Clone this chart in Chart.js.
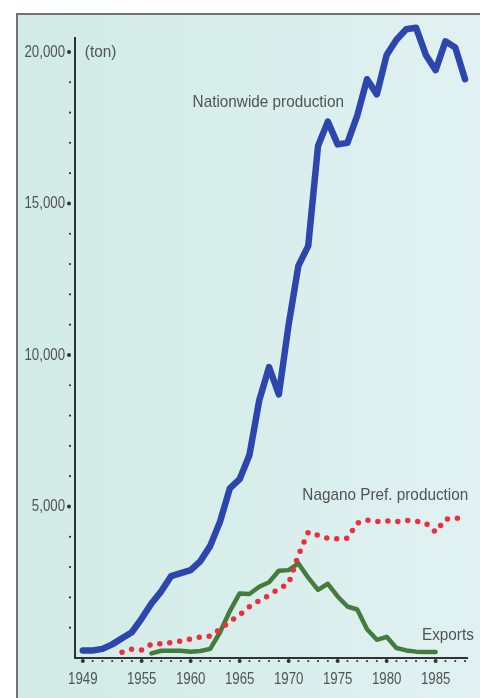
<!DOCTYPE html>
<html lang="en">
<head>
	<meta charset="utf-8">
	<title>Production and exports (ton)</title>
	<script src="https://cdn.jsdelivr.net/npm/chart.js"></script>
	<style>
		html, body {margin:0; padding:0; background:#fff;}
		#wrap {width:480px; height:698px; position:relative;}
	</style>
</head>
<body>
	<div id="wrap"><canvas id="grafico" width="480" height="698"></canvas></div>

<script>
	// data (ton)
	const years = [1949,1950,1951,1952,1953,1954,1955,1956,1957,1958,1959,1960,1961,1962,1963,1964,1965,1966,1967,1968,
		1969,1970,1971,1972,1973,1974,1975,1976,1977,1978,1979,1980,1981,1982,1983,1984,1985,1986,1987,1988];

	const nationwide = [250,250,300,450,650,850,1300,1800,2200,2700,2800,2900,3200,3700,4500,5600,5900,6700,8500,9600,
		8700,11000,12950,13600,16900,17700,16950,17000,17900,19100,18600,19900,20400,20750,20800,19900,19400,20350,20150,19100];

	const nagano = [null,null,null,null,190,290,260,460,470,510,560,630,690,720,950,1200,1420,1690,1890,2070,
		2280,2460,3400,4150,4050,3950,3930,3950,4450,4550,4500,4520,4500,4540,4520,4450,4150,4580,4610,4630];

	const exportsTon = [null,null,null,null,null,null,null,150,240,240,240,210,230,300,850,1550,2130,2110,2350,2500,
		2880,2900,3120,2650,2250,2450,2030,1700,1600,950,600,700,330,250,210,200,200,null,null,null];

	const xTickLabels = [1949,1955,1960,1965,1970,1975,1980,1985];
	const yTickLabels = [5000,10000,15000,20000];

	const notes = [
		{text:"(ton)", year:1949.2, value:20000},
		{text:"Nationwide production", year:1960.2, value:18350},
		{text:"Nagano Pref. production", year:1971.4, value:5380},
		{text:"Exports", year:1983.6, value:760}
	];

	const corTexto = "#505453";
	const fonte = "'Liberation Sans', Arial, sans-serif";

	function montaPontos(vals) {
		let pts = [];
		for (let i = 0; i < years.length; i++) {
			pts.push({x: years[i], y: vals[i]});
		}
		return pts;
	}

	// text squeezed sideways, the print uses a condensed face
	function textoEstreito(ctx, txt, x, y, align, fator) {
		ctx.save();
		ctx.translate(x, y);
		ctx.scale(fator, 1);
		ctx.textAlign = align;
		ctx.fillText(txt, 0, 0);
		ctx.restore();
	}

	// paper background + frame
	const fundo = {
		id: "fundo",
		beforeDraw(chart) {
			const ctx = chart.ctx;
			ctx.save();
			ctx.fillStyle = "#fff";
			ctx.fillRect(0, 0, chart.width, chart.height);
			let g = ctx.createLinearGradient(17, 0, chart.width, 0);
			g.addColorStop(0, "#d2ebe5");
			g.addColorStop(0.5, "#d8eeeb");
			g.addColorStop(1, "#e1f1f3");
			ctx.fillStyle = g;
			ctx.fillRect(17, 14, chart.width - 17, chart.height - 14);
			ctx.strokeStyle = "#6f7473";
			ctx.lineWidth = 2;
			ctx.beginPath();
			ctx.moveTo(17, chart.height);
			ctx.lineTo(17, 14);
			ctx.lineTo(chart.width, 14);
			ctx.stroke();
			ctx.restore();
		}
	};

	// dotted tick marks, tick numbers and the text labels
	const extras = {
		id: "extras",
		afterDraw(chart) {
			const ctx = chart.ctx;
			const sx = chart.scales.x;
			const sy = chart.scales.y;
			ctx.save();
			ctx.fillStyle = "#2f3332";
			// x dots, one per year
			let yb = sy.getPixelForValue(0) + 3;
			for (let a = 1949; a <= 1988; a++) {
				let big = xTickLabels.indexOf(a) >= 0;
				ctx.beginPath();
				ctx.arc(sx.getPixelForValue(a), yb, big ? 2 : 1.1, 0, Math.PI * 2);
				ctx.fill();
			}
			// y dots, every 1000
			let xl = sx.getPixelForValue(sx.min);
			for (let v = 1000; v <= 20000; v += 1000) {
				let big = yTickLabels.indexOf(v) >= 0;
				ctx.beginPath();
				ctx.arc(xl - (big ? 6 : 5), sy.getPixelForValue(v), big ? 2 : 1.1, 0, Math.PI * 2);
				ctx.fill();
			}

			ctx.fillStyle = corTexto;
			ctx.font = "17px " + fonte;
			ctx.textBaseline = "middle";
			xTickLabels.forEach(function(a) {
				textoEstreito(ctx, String(a), sx.getPixelForValue(a), yb + 18, "center", 0.78);
			});
			yTickLabels.forEach(function(v) {
				textoEstreito(ctx, v.toLocaleString("en-US"), xl - 10, sy.getPixelForValue(v), "right", 0.78);
			});

			ctx.font = "17px " + fonte;
			notes.forEach(function(n) {
				textoEstreito(ctx, n.text, sx.getPixelForValue(n.year), sy.getPixelForValue(n.value), "left", 0.9);
			});
			ctx.restore();
		}
	};

	const chartdata = {
		datasets: [
			{
				label: "Nationwide production",
				data: montaPontos(nationwide),
				borderColor: "#2c46ad",
				borderWidth: 6.5,
				borderJoinStyle: "round",
				borderCapStyle: "round"
			},
			{
				label: "Nagano Pref. production",
				data: montaPontos(nagano),
				borderColor: "#ec2f3c",
				borderWidth: 5.5,
				borderDash: [0, 10],
				borderCapStyle: "round"
			},
			{
				label: "Exports",
				data: montaPontos(exportsTon),
				borderColor: "#437c3c",
				borderWidth: 4.5,
				borderJoinStyle: "round",
				borderCapStyle: "round"
			}
		]
	};

	new Chart(document.getElementById("grafico"), {
		type: "line",
		data: chartdata,
		plugins: [fundo, extras],
		options: {
			responsive: false,
			animation: false,
			layout: {padding: {top: 38, right: 13, left: 0, bottom: 0}},
			elements: {point: {radius: 0}, line: {tension: 0}},
			datasets: {line: {clip: false, spanGaps: false}},
			plugins: {legend: {display: false}, tooltip: {enabled: false}},
			scales: {
				x: {
					type: "linear",
					min: 1948.2,
					max: 1988.2,
					afterFit: function(s) { s.height = 40; },
					afterBuildTicks: function(s) { s.ticks = xTickLabels.map(v => ({value: v})); },
					grid: {display: false, drawTicks: false},
					border: {display: true, color: "#2f3332", width: 2},
					ticks: {display: false}
				},
				y: {
					min: 0,
					max: 20460,
					afterFit: function(s) { s.width = 75; },
					afterBuildTicks: function(s) { s.ticks = yTickLabels.map(v => ({value: v})); },
					grid: {display: false, drawTicks: false},
					border: {display: true, color: "#2f3332", width: 2},
					ticks: {display: false}
				}
			}
		}
	});
</script>
</body>
</html>
